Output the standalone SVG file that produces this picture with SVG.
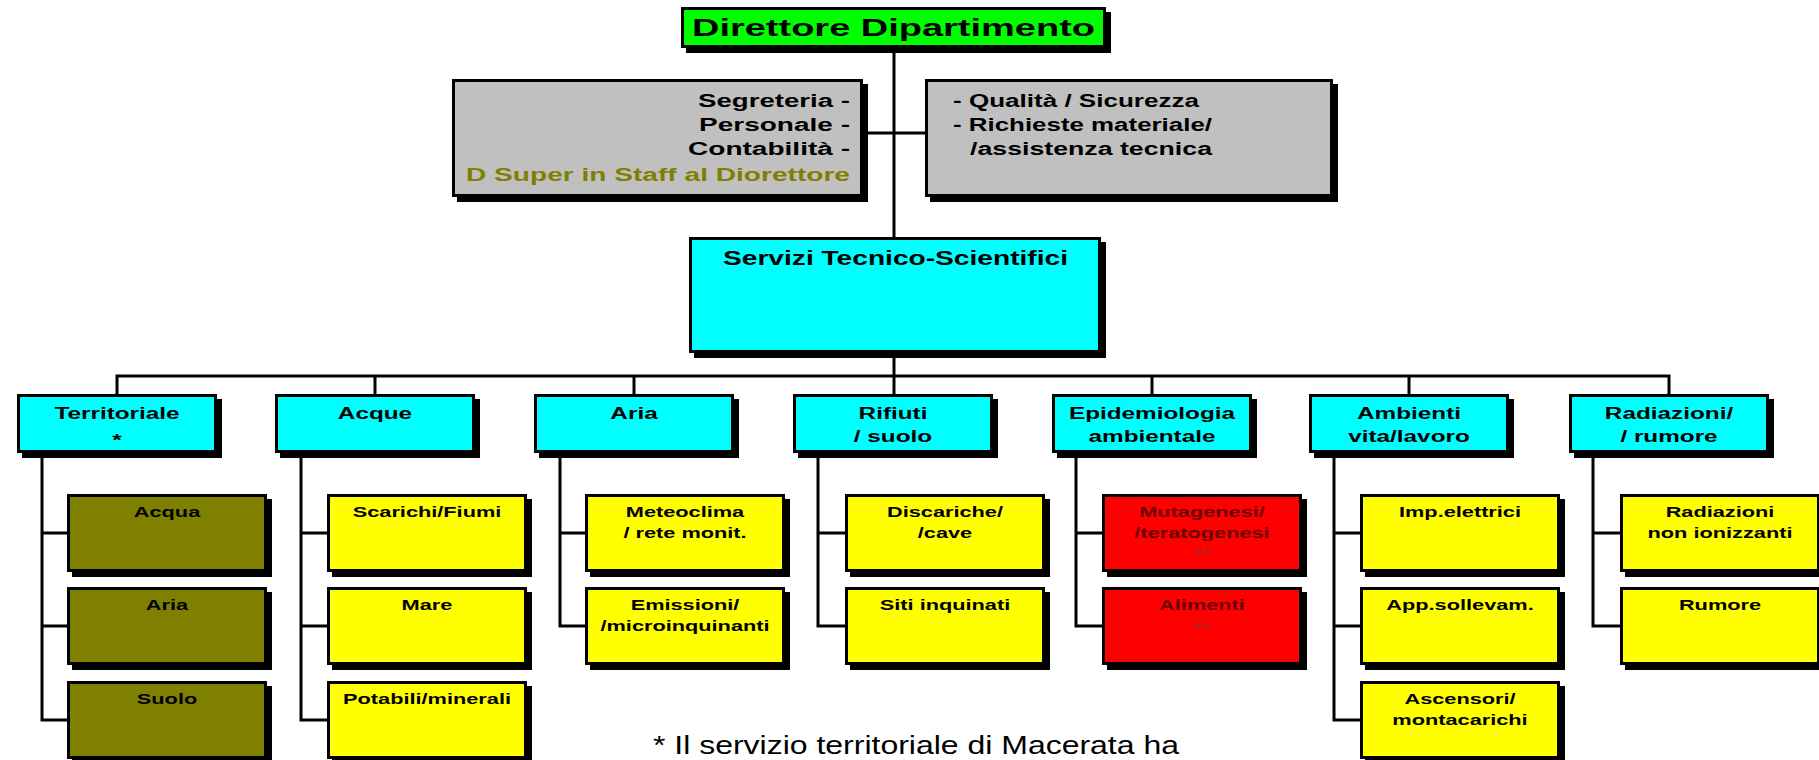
<svg xmlns="http://www.w3.org/2000/svg" width="1819" height="760" viewBox="0 0 1819 760">
<style>
.sh{fill:#000}
.bx{stroke:#000;stroke-width:3}
.green{fill:#00ff00}.gray{fill:#c0c0c0}.cyan{fill:#00ffff}.yel{fill:#ffff00}.olv{fill:#808000}.red{fill:#ff0000}
text{font-family:"Liberation Sans",Arial,sans-serif;font-weight:bold;fill:#000}
.t1{font-size:23px}
.tg{font-size:18px}
.ts{font-size:20px}
.t2{font-size:17px;text-anchor:middle}
.t3{font-size:15px;text-anchor:middle}
.ot{fill:#808000}
.rt{fill:#6b0000}
.ra{fill:#b02020}
.fn{font-size:25px;font-weight:normal}
.ln{stroke:#000;stroke-width:3;fill:none}
</style>
<rect width="1819" height="760" fill="#fff"/>

<g id="connectors">
<line class="ln" x1="894" y1="48" x2="894" y2="237"/>
<line class="ln" x1="863" y1="133" x2="925" y2="133"/>
<line class="ln" x1="894" y1="353" x2="894" y2="394"/>
<polyline class="ln" points="117,394 117,376 1669,376 1669,394"/>
<line class="ln" x1="375" y1="376" x2="375" y2="394"/>
<line class="ln" x1="634" y1="376" x2="634" y2="394"/>
<line class="ln" x1="1152" y1="376" x2="1152" y2="394"/>
<line class="ln" x1="1409" y1="376" x2="1409" y2="394"/>
<path class="ln" d="M42,453V720H67M42,533H67M42,626H67"/>
<path class="ln" d="M301,453V720H327M301,533H327M301,626H327"/>
<path class="ln" d="M560,453V626H585M560,533H585"/>
<path class="ln" d="M818,453V626H845M818,533H845"/>
<path class="ln" d="M1076,453V626H1102M1076,533H1102"/>
<path class="ln" d="M1334,453V720H1360M1334,533H1360M1334,626H1360"/>
<path class="ln" d="M1593,453V626H1620M1593,533H1620"/>
</g>

<g id="direttore">
<rect class="sh" x="686" y="12" width="425" height="41"/>
<rect class="bx green" x="682.5" y="8.5" width="422" height="38"/>
<text class="t1" x="692" y="36" textLength="403" lengthAdjust="spacingAndGlyphs">Direttore Dipartimento</text>
</g>

<g id="staff-sx">
<rect class="sh" x="457" y="84" width="411" height="118"/>
<rect class="bx gray" x="453.5" y="80.5" width="408" height="115"/>
<text class="tg" x="698" y="107" textLength="152" lengthAdjust="spacingAndGlyphs">Segreteria -</text>
<text class="tg" x="699" y="131" textLength="151" lengthAdjust="spacingAndGlyphs">Personale -</text>
<text class="tg" x="688" y="155" textLength="162" lengthAdjust="spacingAndGlyphs">Contabilità -</text>
<text class="tg ot" x="466" y="181" textLength="384" lengthAdjust="spacingAndGlyphs">D Super in Staff al Diorettore</text>
</g>

<g id="staff-dx">
<rect class="sh" x="930" y="84" width="408" height="118"/>
<rect class="bx gray" x="926.5" y="80.5" width="405" height="115"/>
<text class="tg" x="953" y="107" textLength="246" lengthAdjust="spacingAndGlyphs">- Qualità / Sicurezza</text>
<text class="tg" x="953" y="131" textLength="259" lengthAdjust="spacingAndGlyphs">- Richieste materiale/</text>
<text class="tg" x="970" y="155" textLength="242" lengthAdjust="spacingAndGlyphs">/assistenza tecnica</text>
</g>

<g id="servizi">
<rect class="sh" x="694" y="242" width="412" height="116"/>
<rect class="bx cyan" x="690.5" y="238.5" width="409" height="113"/>
<text class="ts" x="723" y="265" textLength="345" lengthAdjust="spacingAndGlyphs">Servizi Tecnico-Scientifici</text>
</g>

<g id="territoriale">
<rect class="sh" x="22" y="399" width="200" height="59"/>
<rect class="bx cyan" x="18.5" y="395.5" width="197" height="56"/>
<text class="t2" transform="translate(117 419) scale(1.43 1)">Territoriale</text>
<text class="t2" transform="translate(117 446) scale(1.43 1)">*</text>
</g>
<g id="acque">
<rect class="sh" x="280" y="399" width="200" height="59"/>
<rect class="bx cyan" x="276.5" y="395.5" width="197" height="56"/>
<text class="t2" transform="translate(375 419) scale(1.43 1)">Acque</text>
</g>
<g id="aria">
<rect class="sh" x="539" y="399" width="200" height="59"/>
<rect class="bx cyan" x="535.5" y="395.5" width="197" height="56"/>
<text class="t2" transform="translate(634 419) scale(1.43 1)">Aria</text>
</g>
<g id="rifiuti">
<rect class="sh" x="798" y="399" width="200" height="59"/>
<rect class="bx cyan" x="794.5" y="395.5" width="197" height="56"/>
<text class="t2" transform="translate(893 419) scale(1.43 1)">Rifiuti</text>
<text class="t2" transform="translate(893 442) scale(1.43 1)">/ suolo</text>
</g>
<g id="epidemiologia">
<rect class="sh" x="1057" y="399" width="200" height="59"/>
<rect class="bx cyan" x="1053.5" y="395.5" width="197" height="56"/>
<text class="t2" transform="translate(1152 419) scale(1.43 1)">Epidemiologia</text>
<text class="t2" transform="translate(1152 442) scale(1.43 1)">ambientale</text>
</g>
<g id="ambienti">
<rect class="sh" x="1314" y="399" width="200" height="59"/>
<rect class="bx cyan" x="1310.5" y="395.5" width="197" height="56"/>
<text class="t2" transform="translate(1409 419) scale(1.43 1)">Ambienti</text>
<text class="t2" transform="translate(1409 442) scale(1.43 1)">vita/lavoro</text>
</g>
<g id="radiazioni">
<rect class="sh" x="1574" y="399" width="200" height="59"/>
<rect class="bx cyan" x="1570.5" y="395.5" width="197" height="56"/>
<text class="t2" transform="translate(1669 419) scale(1.43 1)">Radiazioni/</text>
<text class="t2" transform="translate(1669 442) scale(1.43 1)">/ rumore</text>
</g>

<g id="terr-acqua">
<rect class="sh" x="72" y="499" width="200" height="78"/>
<rect class="bx olv" x="68.5" y="495.5" width="197" height="75"/>
<text class="t3" transform="translate(167 517) scale(1.45 1)">Acqua</text>
</g>
<g id="terr-aria">
<rect class="sh" x="72" y="592" width="200" height="78"/>
<rect class="bx olv" x="68.5" y="588.5" width="197" height="75"/>
<text class="t3" transform="translate(167 610) scale(1.45 1)">Aria</text>
</g>
<g id="terr-suolo">
<rect class="sh" x="72" y="686" width="200" height="78"/>
<rect class="bx olv" x="68.5" y="682.5" width="197" height="75"/>
<text class="t3" transform="translate(167 704) scale(1.45 1)">Suolo</text>
</g>

<g id="acque-scarichi">
<rect class="sh" x="332" y="499" width="200" height="78"/>
<rect class="bx yel" x="328.5" y="495.5" width="197" height="75"/>
<text class="t3" transform="translate(427 517) scale(1.45 1)">Scarichi/Fiumi</text>
</g>
<g id="acque-mare">
<rect class="sh" x="332" y="592" width="200" height="78"/>
<rect class="bx yel" x="328.5" y="588.5" width="197" height="75"/>
<text class="t3" transform="translate(427 610) scale(1.45 1)">Mare</text>
</g>
<g id="acque-potabili">
<rect class="sh" x="332" y="686" width="200" height="78"/>
<rect class="bx yel" x="328.5" y="682.5" width="197" height="75"/>
<text class="t3" transform="translate(427 704) scale(1.45 1)">Potabili/minerali</text>
</g>

<g id="aria-meteo">
<rect class="sh" x="590" y="499" width="200" height="78"/>
<rect class="bx yel" x="586.5" y="495.5" width="197" height="75"/>
<text class="t3" transform="translate(685 517) scale(1.45 1)">Meteoclima</text>
<text class="t3" transform="translate(685 538) scale(1.45 1)">/ rete monit.</text>
</g>
<g id="aria-emissioni">
<rect class="sh" x="590" y="592" width="200" height="78"/>
<rect class="bx yel" x="586.5" y="588.5" width="197" height="75"/>
<text class="t3" transform="translate(685 610) scale(1.45 1)">Emissioni/</text>
<text class="t3" transform="translate(685 631) scale(1.45 1)">/microinquinanti</text>
</g>

<g id="rifiuti-discariche">
<rect class="sh" x="850" y="499" width="200" height="78"/>
<rect class="bx yel" x="846.5" y="495.5" width="197" height="75"/>
<text class="t3" transform="translate(945 517) scale(1.45 1)">Discariche/</text>
<text class="t3" transform="translate(945 538) scale(1.45 1)">/cave</text>
</g>
<g id="rifiuti-siti">
<rect class="sh" x="850" y="592" width="200" height="78"/>
<rect class="bx yel" x="846.5" y="588.5" width="197" height="75"/>
<text class="t3" transform="translate(945 610) scale(1.45 1)">Siti inquinati</text>
</g>

<g id="epid-mutagenesi">
<rect class="sh" x="1107" y="499" width="200" height="78"/>
<rect class="bx red" x="1103.5" y="495.5" width="197" height="75"/>
<text class="t3 rt" transform="translate(1202 517) scale(1.45 1)">Mutagenesi/</text>
<text class="t3 rt" transform="translate(1202 538) scale(1.45 1)">/teratogenesi</text>
<text class="t3 ra" transform="translate(1202 558) scale(1.45 1)">**</text>
</g>
<g id="epid-alimenti">
<rect class="sh" x="1107" y="592" width="200" height="78"/>
<rect class="bx red" x="1103.5" y="588.5" width="197" height="75"/>
<text class="t3 rt" transform="translate(1202 610) scale(1.45 1)">Alimenti</text>
<text class="t3 ra" transform="translate(1202 632) scale(1.45 1)">**</text>
</g>

<g id="amb-imp">
<rect class="sh" x="1365" y="499" width="200" height="78"/>
<rect class="bx yel" x="1361.5" y="495.5" width="197" height="75"/>
<text class="t3" transform="translate(1460 517) scale(1.45 1)">Imp.elettrici</text>
</g>
<g id="amb-app">
<rect class="sh" x="1365" y="592" width="200" height="78"/>
<rect class="bx yel" x="1361.5" y="588.5" width="197" height="75"/>
<text class="t3" transform="translate(1460 610) scale(1.45 1)">App.sollevam.</text>
</g>
<g id="amb-ascensori">
<rect class="sh" x="1365" y="686" width="200" height="78"/>
<rect class="bx yel" x="1361.5" y="682.5" width="197" height="75"/>
<text class="t3" transform="translate(1460 704) scale(1.45 1)">Ascensori/</text>
<text class="t3" transform="translate(1460 725) scale(1.45 1)">montacarichi</text>
</g>

<g id="rad-nonion">
<rect class="sh" x="1625" y="499" width="200" height="78"/>
<rect class="bx yel" x="1621.5" y="495.5" width="197" height="75"/>
<text class="t3" transform="translate(1720 517) scale(1.45 1)">Radiazioni</text>
<text class="t3" transform="translate(1720 538) scale(1.45 1)">non ionizzanti</text>
</g>
<g id="rad-rumore">
<rect class="sh" x="1625" y="592" width="200" height="78"/>
<rect class="bx yel" x="1621.5" y="588.5" width="197" height="75"/>
<text class="t3" transform="translate(1720 610) scale(1.45 1)">Rumore</text>
</g>

<g id="nota">
<text class="fn" x="653" y="754" textLength="526" lengthAdjust="spacingAndGlyphs">* Il servizio territoriale di Macerata ha</text>
</g>
</svg>
